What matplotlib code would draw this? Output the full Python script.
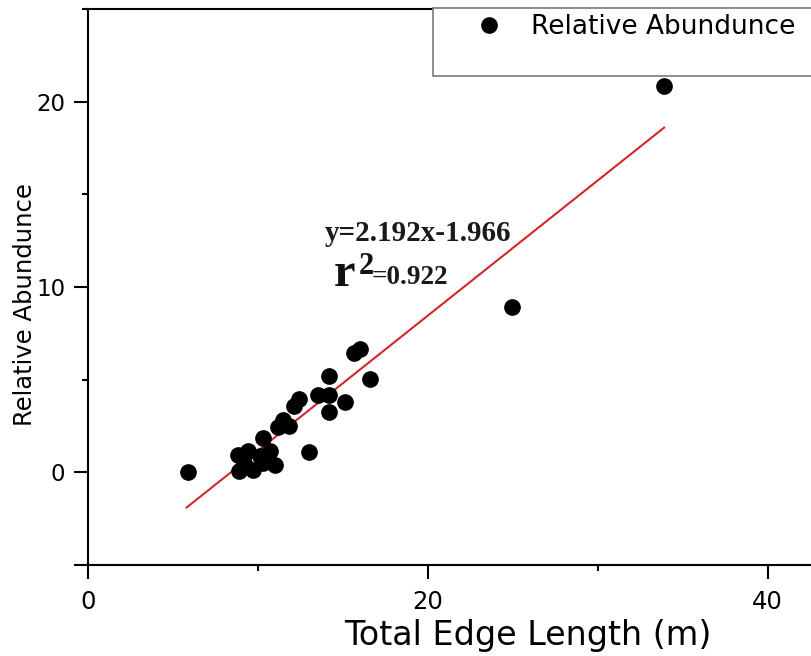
import numpy as np
import matplotlib
matplotlib.use("Agg")
import matplotlib.pyplot as plt
from matplotlib.patches import Rectangle
from matplotlib.lines import Line2D

# data
edge_length = [5.86, 8.85, 8.9, 9.2, 9.4, 9.7, 10.1, 10.3, 10.3, 10.7, 11.0, 11.2, 11.5, 11.8,
               12.1, 12.4, 13.0, 13.55, 14.2, 14.2, 14.2, 15.1, 15.65, 16.0, 16.6, 24.96, 33.9]
abundance = [0.0, 0.95, 0.05, 0.5, 1.13, 0.15, 0.86, 0.5, 1.85, 1.13, 0.4, 2.45, 2.84, 2.5,
             3.59, 3.95, 1.08, 4.15, 4.15, 5.22, 3.28, 3.79, 6.44, 6.65, 5.03, 8.93, 20.87]
fit_x = [5.8, 33.9]
fit_y = [-1.9, 18.6]
equation = "y=2.192x-1.966"
r2_text = "=0.922"

W, H = 812, 656
plt.rcParams['font.family'] = 'DejaVu Sans'
fig = plt.figure(figsize=(W / 100, H / 100), dpi=100)

def px(x, y):
    return x / W, 1 - y / H

ax = fig.add_axes([88 / W, 1 - 565 / H, 1 - 88 / W, (565 - 9) / H])
ax.plot(edge_length, abundance, 'o', color='k', markersize=11, clip_on=False, zorder=3)
ax.plot(fit_x, fit_y, '-', color='#d3262b', linewidth=1.5, zorder=2)

ax.set_xlim(0, 42.6)
ax.set_ylim(-5, 25)
ax.set_xticks([0, 20, 40])
ax.set_xticks([10, 30], minor=True)
ax.set_yticks([-5, 0, 10, 20])
ax.set_yticklabels(['', '0', '10', '20'])
ax.set_yticks([5, 15, 25], minor=True)

for s in ['left', 'bottom', 'top']:
    ax.spines[s].set_linewidth(1.5)
ax.spines['right'].set_visible(False)
ax.tick_params(which='major', length=9.8, width=1.5, direction='out', labelsize=16.5, color='k')
ax.tick_params(which='minor', length=4.6, width=1.5, direction='out')
ax.tick_params(axis='x', pad=8.5, labelsize=17.5)
ax.tick_params(axis='y', pad=6.5)

fig.text(*px(528, 645), "Total Edge Length (m)", fontsize=24,
         ha='center', va='baseline')
fig.text(*px(25, 305), "Relative Abundunce", fontsize=17.5,
         rotation=90, ha='center', va='center')

# fit annotation
fig.text(*px(325, 241), equation, fontsize=21, family='Liberation Serif', weight='bold',
         ha='left', va='baseline', color='#1a1a1a')
fig.text(*px(334, 286), "r", fontsize=35, family='Liberation Serif', weight='bold',
         ha='left', va='baseline', color='#111111')
fig.text(*px(359, 274), "2", fontsize=22, family='Liberation Serif', weight='bold',
         ha='left', va='baseline', color='#111111')
fig.text(*px(372, 284), r2_text, fontsize=19.5, family='Liberation Serif', weight='bold',
         ha='left', va='baseline', color='#1a1a1a')

# legend box
fig.patches.append(Rectangle(px(433, 76), (W - 433 + 10) / W, 68 / H,
                             transform=fig.transFigure, facecolor='white',
                             edgecolor='#7a7a7a', linewidth=1.2, zorder=5))
handle = Line2D([], [], marker='o', color='k', linestyle='None', markersize=11)
leg = fig.legend([handle], ["Relative Abundunce"], loc='center left',
                 bbox_to_anchor=px(476, 27), bbox_transform=fig.transFigure,
                 frameon=False, borderpad=0, borderaxespad=0, handlelength=1.0,
                 handletextpad=1.1, prop={'size': 19})
leg.set_zorder(6)

fig.savefig("out.png", dpi=100)
